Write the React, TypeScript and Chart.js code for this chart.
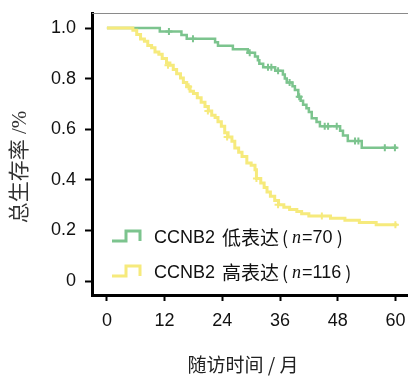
import React, { useEffect, useRef } from 'react';
import { Chart, registerables } from 'chart.js';

Chart.register(...registerables);

// ---- data ----
const X_TICKS = [0, 12, 24, 36, 48, 60];
const Y_TICKS = [0, 0.2, 0.4, 0.6, 0.8, 1.0];

const GENE = 'CCNB2';
const LOW_LABEL = '低表达';
const LOW_N = '70';
const HIGH_LABEL = '高表达';
const HIGH_N = '116';

const X_TITLE = '随访时间 / 月';
const Y_TITLE = '总生存率 /%';

// low expression (green), time in months, survival after event
const lowTimes = [0, 11.0, 15.5, 16.6, 22.5, 23.1, 26.2, 29.3, 30.8, 31.4, 31.7, 32.5, 35.0, 36.6, 37.0, 37.4, 38.6, 39.1, 39.8, 40.3, 40.8, 41.5, 42.0, 42.6, 43.6, 44.3, 48.5, 49.1, 50.1, 53.0, 60.4];
const lowSurv = [1.0, 0.986, 0.972, 0.958, 0.944, 0.930, 0.916, 0.902, 0.887, 0.873, 0.859, 0.845, 0.831, 0.816, 0.800, 0.785, 0.770, 0.755, 0.728, 0.712, 0.697, 0.683, 0.668, 0.643, 0.628, 0.612, 0.594, 0.575, 0.553, 0.527, 0.527];
const lowCensorTimes = [12.9, 17.9, 29.7, 33.5, 34.2, 35.6, 38.0, 40.0, 45.3, 46.0, 47.8, 51.6, 52.3, 57.8, 59.9];
const lowCensorSurv = [0.986, 0.958, 0.902, 0.845, 0.845, 0.831, 0.785, 0.728, 0.612, 0.612, 0.612, 0.553, 0.553, 0.527, 0.527];

// high expression (yellow)
const highTimes = [0, 5.4, 6.2, 7.0, 7.8, 8.5, 9.3, 10.0, 10.8, 11.5, 12.4, 13.1, 13.8, 14.5, 15.3, 15.9, 16.6, 17.3, 18.0, 18.8, 19.6, 20.4, 21.1, 21.8, 22.5, 23.1, 23.8, 24.5, 25.2, 26.0, 26.6, 27.4, 28.1, 29.1, 30.0, 30.8, 31.1, 32.0, 32.7, 33.3, 34.0, 34.9, 35.7, 36.8, 38.0, 39.5, 40.5, 42.0, 46.5, 49.5, 52.5, 56.0, 60.4];
const highSurv = [1.0, 0.991, 0.974, 0.957, 0.948, 0.931, 0.922, 0.905, 0.896, 0.879, 0.862, 0.853, 0.836, 0.819, 0.802, 0.785, 0.768, 0.750, 0.741, 0.724, 0.707, 0.690, 0.672, 0.655, 0.646, 0.629, 0.612, 0.586, 0.569, 0.552, 0.526, 0.509, 0.492, 0.466, 0.458, 0.440, 0.405, 0.387, 0.370, 0.352, 0.335, 0.318, 0.301, 0.292, 0.283, 0.275, 0.266, 0.257, 0.248, 0.240, 0.231, 0.222, 0.222];
const highCensorTimes = [12.7, 17.0, 21.0, 25.0, 31.1, 35.6, 44.7, 60.0];
const highCensorSurv = [0.853, 0.768, 0.672, 0.569, 0.405, 0.301, 0.257, 0.222];

const GREEN = '#7cc48e';
const YELLOW = '#f6ea7c';
const FONT = '"Liberation Sans", "Noto Sans CJK SC", sans-serif';
const CJK = '"Noto Sans CJK SC", sans-serif';

const toPts = (t: number[], s: number[]) => t.map((x, i) => ({ x, y: s[i] }));

const zeroPad = (s: any) => {
  s.paddingLeft = 0;
  s.paddingRight = 0;
  s.paddingTop = 0;
  s.paddingBottom = 0;
};

const decorPlugin = {
  id: 'decor',
  afterDraw(chart: any) {
    const ctx = chart.ctx;
    const a = chart.chartArea;
    ctx.save();
    // top frame line
    ctx.strokeStyle = '#8a8a8a';
    ctx.lineWidth = 1;
    ctx.beginPath();
    ctx.moveTo(a.left, a.top + 0.5);
    ctx.lineTo(a.right, a.top + 0.5);
    ctx.stroke();

    // axis titles
    ctx.fillStyle = '#222';
    ctx.textAlign = 'center';
    ctx.textBaseline = 'middle';
    ctx.font = '19px ' + CJK;
    ctx.fillText(X_TITLE, 243, 365);
    ctx.save();
    ctx.translate(20, 167);
    ctx.rotate(-Math.PI / 2);
    ctx.font = '21px "Liberation Serif", "Noto Sans CJK SC", serif';
    ctx.fillStyle = '#333';
    ctx.fillText(Y_TITLE, 0, 0);
    ctx.restore();

    // legend
    const rows = [
      { color: GREEN, label: LOW_LABEL, n: LOW_N, yt: 231, yb: 241, yc: 238 },
      { color: YELLOW, label: HIGH_LABEL, n: HIGH_N, yt: 266, yb: 276, yc: 273 },
    ];
    for (const r of rows) {
      ctx.strokeStyle = r.color;
      ctx.lineWidth = 3;
      ctx.beginPath();
      ctx.moveTo(112, r.yb);
      ctx.lineTo(126, r.yb);
      ctx.lineTo(126, r.yt);
      ctx.lineTo(140, r.yt);
      ctx.lineTo(140, r.yb);
      ctx.stroke();

      ctx.fillStyle = '#111';
      ctx.textAlign = 'left';
      ctx.textBaseline = 'middle';
      let x = 154;
      ctx.font = '18px ' + FONT;
      ctx.fillText(GENE, x, r.yc);
      x += ctx.measureText(GENE).width + 7;
      ctx.font = '19px ' + CJK;
      ctx.fillText(r.label, x, r.yc);
      x += ctx.measureText(r.label).width + 3;
      ctx.font = '18px ' + CJK;
      ctx.fillText('(', x, r.yc);
      x += ctx.measureText('(').width + 4;
      ctx.font = 'italic 18px "Liberation Serif", serif';
      ctx.fillText('n', x, r.yc);
      x += ctx.measureText('n').width + 1;
      ctx.font = '18px ' + FONT;
      const t = '=' + r.n;
      ctx.fillText(t, x, r.yc);
      x += ctx.measureText(t).width + 4;
      ctx.font = '18px ' + CJK;
      ctx.fillText(')', x, r.yc);
    }
    ctx.restore();
  },
};

export default function App() {
  const ref = useRef<HTMLCanvasElement>(null);
  useEffect(() => {
    if (!ref.current) return;
    const chart = new Chart(ref.current, {
      type: 'line',
      data: {
        datasets: [
          {
            label: GENE + ' ' + HIGH_LABEL,
            data: toPts(highTimes, highSurv),
            borderColor: YELLOW,
            borderWidth: 3,
            stepped: 'before',
            pointRadius: 0,
            fill: false,
            order: 1,
          },
          {
            label: GENE + ' ' + HIGH_LABEL + ' censor',
            data: toPts(highCensorTimes, highCensorSurv),
            showLine: false,
            pointStyle: 'cross',
            pointRadius: 3.5,
            pointBorderWidth: 2,
            borderColor: YELLOW,
            backgroundColor: YELLOW,
            order: 0,
          },
          {
            label: GENE + ' ' + LOW_LABEL,
            data: toPts(lowTimes, lowSurv),
            borderColor: GREEN,
            borderWidth: 2.5,
            stepped: 'before',
            pointRadius: 0,
            fill: false,
            order: 3,
          },
          {
            label: GENE + ' ' + LOW_LABEL + ' censor',
            data: toPts(lowCensorTimes, lowCensorSurv),
            showLine: false,
            pointStyle: 'cross',
            pointRadius: 3.5,
            pointBorderWidth: 2,
            borderColor: GREEN,
            backgroundColor: GREEN,
            order: 2,
          },
        ],
      } as any,
      options: {
        responsive: false,
        animation: false,
        layout: { autoPadding: false, padding: { top: 13, left: 0, right: 0, bottom: 0 } },
        plugins: { legend: { display: false }, tooltip: { enabled: false } },
        scales: {
          x: {
            type: 'linear',
            min: -3.1,
            max: 62.62,
            afterBuildTicks: (s: any) => {
              s.ticks = X_TICKS.map((v) => ({ value: v }));
            },
            afterFit: (s: any) => {
              s.height = 81;
              zeroPad(s);
            },
            grid: { drawOnChartArea: false, drawTicks: true, tickLength: 6, tickWidth: 2, tickColor: '#000' },
            border: { display: true, color: '#000', width: 3 },
            ticks: {
              font: { size: 18, family: FONT },
              color: '#111',
              padding: 9,
              maxRotation: 0,
              autoSkip: false,
              callback: (v: any) => String(v),
            },
          },
          y: {
            type: 'linear',
            min: -0.0553,
            max: 1.0593,
            afterBuildTicks: (s: any) => {
              s.ticks = Y_TICKS.map((v) => ({ value: v }));
            },
            afterFit: (s: any) => {
              s.width = 92;
              zeroPad(s);
            },
            grid: { drawOnChartArea: false, drawTicks: true, tickLength: 7, tickWidth: 2, tickColor: '#000' },
            border: { display: true, color: '#000', width: 3 },
            ticks: {
              font: { size: 18, family: FONT },
              color: '#111',
              padding: 9,
              autoSkip: false,
              callback: (v: any) => (v === 0 ? '0' : Number(v).toFixed(1)),
            },
          },
        },
      } as any,
      plugins: [decorPlugin],
    });
    return () => chart.destroy();
  }, []);

  return (
    <div style={{ position: 'fixed', left: 0, top: 0, width: 408, height: 376, background: '#fff' }}>
      <canvas ref={ref} width={408} height={376} style={{ display: 'block' }} />
    </div>
  );
}
